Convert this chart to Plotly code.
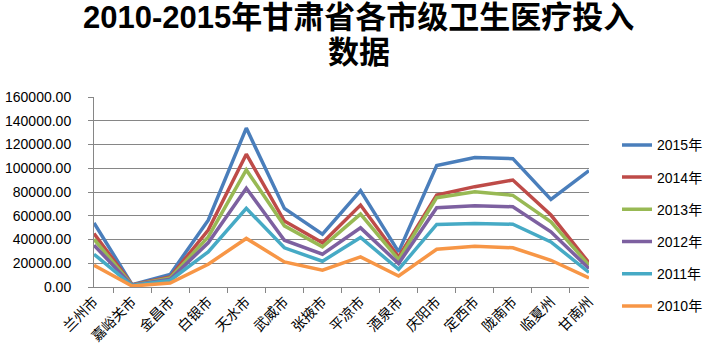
import plotly.graph_objects as go

cities = ["兰州市", "嘉峪关市", "金昌市", "白银市", "天水市", "武威市", "张掖市",
          "平凉市", "酒泉市", "庆阳市", "定西市", "陇南市", "临夏州", "甘南州"]

y2015 = [54000, 2000, 10500, 56300, 133800, 66200, 44500, 81100, 29600, 102200, 109000, 108100, 73800, 98000]
y2014 = [45100, 1800, 8400, 47900, 111800, 55500, 37200, 69000, 25300, 77400, 84500, 90100, 60600, 20300]
y2013 = [40300, 1600, 7600, 42200, 98600, 51500, 33800, 61400, 23100, 75200, 80200, 77200, 54900, 18300]
y2012 = [35200, 1400, 6500, 37200, 83100, 39400, 27600, 49800, 19800, 66700, 68400, 67600, 46500, 15500]
y2011 = [27600, 1200, 5500, 29600, 66200, 33000, 21700, 41700, 14900, 52700, 53500, 52900, 38000, 12200]
y2010 = [18300, 800, 3400, 19200, 40900, 21100, 14100, 25300, 9300, 31800, 34400, 33000, 22500, 7600]

title_lines = ["2010-2015年甘肃省各市级卫生医疗投入", "数据"]

series = [
    ("2015年", y2015, "#4A7EBB"),
    ("2014年", y2014, "#BE4B48"),
    ("2013年", y2013, "#98B954"),
    ("2012年", y2012, "#7D60A0"),
    ("2011年", y2011, "#46AAC5"),
    ("2010年", y2010, "#F79646"),
]

FONT = "Liberation Sans, Noto Sans CJK SC, sans-serif"

fig = go.Figure()
for name, vals, color in series:
    fig.add_trace(go.Scatter(
        x=cities, y=vals, name=name, mode="lines",
        legendgroup=name,
        line=dict(color=color, width=3.5),
    ))

fig.update_layout(
    width=708, height=362,
    margin=dict(l=94, r=119, t=97, b=75, autoexpand=False),
    paper_bgcolor="white", plot_bgcolor="white",
    font=dict(family=FONT, size=14, color="black"),
    legend=dict(
        xref="container", x=1.0, xanchor="right", y=0.83, yanchor="top",
        font=dict(family=FONT, size=14, color="black"),
        tracegroupgap=11, traceorder="grouped",
        bgcolor="rgba(0,0,0,0)",
        maxheight=330,
    ),
    showlegend=True,
    annotations=[
        dict(text="<b>" + title_lines[0] + "</b>", xref="paper", yref="paper",
             x=0.535, y=1.42, xanchor="center", yanchor="middle", showarrow=False,
             font=dict(family=FONT, size=31, color="black")),
        dict(text="<b>" + title_lines[1] + "</b>", xref="paper", yref="paper",
             x=0.535, y=1.235, xanchor="center", yanchor="middle", showarrow=False,
             font=dict(family=FONT, size=31, color="black")),
    ],
)

fig.update_xaxes(
    type="category",
    tickangle=-45,
    showgrid=False,
    showline=True, linecolor="#868686", linewidth=1,
    ticks="outside", ticklen=5, tickcolor="#868686",
    tickson="boundaries",
    tickfont=dict(family=FONT, size=14),
    automargin=False,
)
fig.update_yaxes(
    range=[0, 160000], dtick=20000, tickformat=".2f",
    showgrid=True, gridcolor="#868686", gridwidth=1,
    showline=True, linecolor="#868686", linewidth=1,
    ticks="outside", ticklen=5, tickcolor="#868686",
    zeroline=False,
    ticklabelstandoff=14,
    tickfont=dict(family=FONT, size=14),
    automargin=False,
)

fig.write_html("out.html", config={"displayModeBar": False},
               post_script="document.body.style.margin='0';")
